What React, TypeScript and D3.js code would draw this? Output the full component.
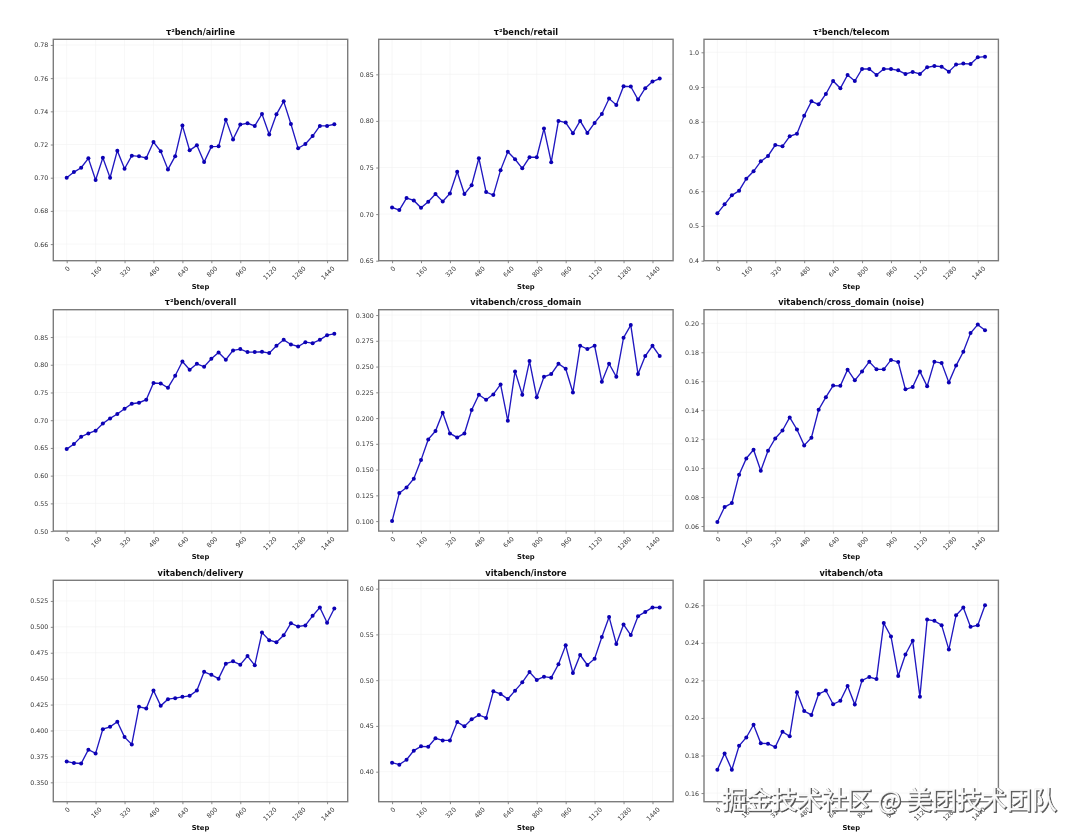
import { useEffect, useRef } from 'react'
import * as d3 from 'd3'

const width = 1080
const height = 838

// steps 0, 40, ... 1480
const steps = d3.range(38).map((i) => i * 40)
const stepTicks = [0, 160, 320, 480, 640, 800, 960, 1120, 1280, 1440]

const airline = [0.7, 0.7034, 0.706, 0.7117, 0.6986, 0.712, 0.7, 0.7163, 0.7054, 0.7133, 0.7129, 0.7119, 0.7215, 0.7159, 0.705, 0.713, 0.7314, 0.7165, 0.7195, 0.7094, 0.7187, 0.7189, 0.735, 0.7231, 0.732, 0.7328, 0.7312, 0.7384, 0.7261, 0.7382, 0.746, 0.7324, 0.7177, 0.7203, 0.7251, 0.7312, 0.7312, 0.7322]
const retail = [0.7072, 0.7043, 0.7172, 0.7147, 0.7068, 0.7132, 0.7215, 0.7136, 0.7222, 0.7455, 0.7215, 0.7311, 0.76, 0.7236, 0.7204, 0.7472, 0.767, 0.7588, 0.7491, 0.761, 0.761, 0.7918, 0.7557, 0.8, 0.7982, 0.7868, 0.8, 0.7871, 0.7979, 0.8075, 0.824, 0.8172, 0.8372, 0.8369, 0.8229, 0.8351, 0.8422, 0.8455]
const telecom = [0.5363, 0.5622, 0.5881, 0.6015, 0.636, 0.6573, 0.686, 0.7015, 0.733, 0.7293, 0.758, 0.7657, 0.8175, 0.8588, 0.8502, 0.88, 0.9174, 0.8963, 0.9347, 0.9174, 0.952, 0.952, 0.9347, 0.952, 0.952, 0.948, 0.9376, 0.9434, 0.9376, 0.9568, 0.9606, 0.9587, 0.9443, 0.9645, 0.9674, 0.9664, 0.9856, 0.9875]
const overall = [0.6479, 0.6569, 0.6702, 0.6762, 0.681, 0.6942, 0.7032, 0.7111, 0.7207, 0.7297, 0.7315, 0.737, 0.767, 0.7664, 0.7586, 0.7802, 0.806, 0.791, 0.8018, 0.7964, 0.8108, 0.8222, 0.809, 0.8258, 0.8282, 0.8228, 0.8228, 0.8234, 0.821, 0.8342, 0.845, 0.8366, 0.833, 0.8408, 0.839, 0.845, 0.8534, 0.8558]
const crossDomain = [0.1, 0.1272, 0.1327, 0.1411, 0.1592, 0.1793, 0.1874, 0.2052, 0.1851, 0.1812, 0.1851, 0.2078, 0.2227, 0.2178, 0.223, 0.2327, 0.1974, 0.2453, 0.2227, 0.2553, 0.2201, 0.2401, 0.2427, 0.2527, 0.2479, 0.2249, 0.2702, 0.267, 0.2702, 0.2353, 0.2527, 0.2401, 0.278, 0.2903, 0.2427, 0.2602, 0.2702, 0.2602]
const crossDomainNoise = [0.0628, 0.0731, 0.0759, 0.0955, 0.1067, 0.1127, 0.0982, 0.112, 0.1205, 0.126, 0.135, 0.1267, 0.1157, 0.121, 0.1403, 0.149, 0.157, 0.1568, 0.168, 0.1606, 0.1668, 0.1735, 0.1682, 0.1682, 0.1747, 0.1733, 0.1544, 0.156, 0.1668, 0.1565, 0.1735, 0.1726, 0.1592, 0.1708, 0.1804, 0.1933, 0.1991, 0.1952]
const delivery = [0.3702, 0.3686, 0.3682, 0.3814, 0.3779, 0.4013, 0.4035, 0.4084, 0.3936, 0.3865, 0.4228, 0.4212, 0.4386, 0.4238, 0.4302, 0.4312, 0.4325, 0.4334, 0.4386, 0.4566, 0.4537, 0.45, 0.4645, 0.4667, 0.4635, 0.4719, 0.4629, 0.4945, 0.4871, 0.4852, 0.4919, 0.5035, 0.5003, 0.5013, 0.5106, 0.5186, 0.5039, 0.5177]
const instore = [0.4098, 0.4077, 0.4131, 0.423, 0.4277, 0.4273, 0.4364, 0.4342, 0.4342, 0.4543, 0.4495, 0.4572, 0.462, 0.4587, 0.4878, 0.4849, 0.4794, 0.4885, 0.4976, 0.5089, 0.5002, 0.5038, 0.5027, 0.5173, 0.538, 0.5078, 0.5275, 0.5166, 0.5235, 0.5472, 0.5691, 0.5395, 0.5608, 0.5492, 0.5699, 0.5746, 0.5794, 0.5794]
const ota = [0.1724, 0.1811, 0.1724, 0.1852, 0.1896, 0.1964, 0.1865, 0.1863, 0.1845, 0.1927, 0.1902, 0.2137, 0.2037, 0.2016, 0.2128, 0.2146, 0.2073, 0.2091, 0.217, 0.2071, 0.22, 0.2218, 0.2207, 0.2505, 0.2434, 0.2223, 0.2338, 0.2411, 0.2113, 0.2524, 0.2517, 0.2494, 0.2364, 0.2547, 0.2588, 0.2485, 0.2494, 0.26]

const panels = [
  { title: 'τ²bench/airline', values: airline, domain: [0.65, 0.7834], ticks: [0.66, 0.68, 0.7, 0.72, 0.74, 0.76, 0.78], fmt: '.2f' },
  { title: 'τ²bench/retail', values: retail, domain: [0.65, 0.8876], ticks: [0.65, 0.7, 0.75, 0.8, 0.85], fmt: '.2f' },
  { title: 'τ²bench/telecom', values: telecom, domain: [0.4, 1.0374], ticks: [0.4, 0.5, 0.6, 0.7, 0.8, 0.9, 1.0], fmt: '.1f' },
  { title: 'τ²bench/overall', values: overall, domain: [0.5, 0.8993], ticks: [0.5, 0.55, 0.6, 0.65, 0.7, 0.75, 0.8, 0.85], fmt: '.2f' },
  { title: 'vitabench/cross_domain', values: crossDomain, domain: [0.0903, 0.3052], ticks: [0.1, 0.125, 0.15, 0.175, 0.2, 0.225, 0.25, 0.275, 0.3], fmt: '.3f' },
  { title: 'vitabench/cross_domain (noise)', values: crossDomainNoise, domain: [0.0565, 0.2094], ticks: [0.06, 0.08, 0.1, 0.12, 0.14, 0.16, 0.18, 0.2], fmt: '.2f' },
  { title: 'vitabench/delivery', values: delivery, domain: [0.3313, 0.5449], ticks: [0.35, 0.375, 0.4, 0.425, 0.45, 0.475, 0.5, 0.525], fmt: '.3f' },
  { title: 'vitabench/instore', values: instore, domain: [0.3672, 0.6091], ticks: [0.4, 0.45, 0.5, 0.55, 0.6], fmt: '.2f' },
  { title: 'vitabench/ota', values: ota, domain: [0.1554, 0.2733], ticks: [0.16, 0.18, 0.2, 0.22, 0.24, 0.26], fmt: '.2f' },
]

const colLefts = [53.3, 378.7, 704]
const rowTops = [39.3, 309.7, 580.3]
const panelW = 294.4
const panelH = 221.4

export default function App() {
  const svgRef = useRef<SVGSVGElement>(null)

  useEffect(() => {
    if (!svgRef.current) return
    const svg = d3.select(svgRef.current)
    svg.selectAll('*').remove()
    svg.attr('width', width).attr('height', height)

    const blur = svg.append('defs').append('filter').attr('id', 'soft')
      .attr('x', 0).attr('y', 0).attr('width', 1).attr('height', 1)
      .attr('filterUnits', 'objectBoundingBox')
    blur.append('feGaussianBlur').attr('stdDeviation', 0.4)

    const root = svg.append('g').attr('filter', 'url(#soft)')
    root.append('rect').attr('width', width).attr('height', height).attr('fill', '#fff')

    panels.forEach((p, i) => {
      const g = root.append('g')
        .attr('transform', `translate(${colLefts[i % 3]},${rowTops[Math.floor(i / 3)]})`)

      // matplotlib style 5% margins around 0..1480
      const x = d3.scaleLinear().domain([-74, 1554]).range([0, panelW])
      const y = d3.scaleLinear().domain(p.domain).range([panelH, 0])

      // Grid lines
      const grid = g.append('g').attr('stroke', '#f2f2f2').attr('stroke-width', 0.6)
      grid.selectAll('.gx').data(stepTicks).enter().append('line')
        .attr('x1', (d) => x(d)).attr('x2', (d) => x(d))
        .attr('y1', 0).attr('y2', panelH)
      grid.selectAll('.gy').data(p.ticks).enter().append('line')
        .attr('y1', (d) => y(d)).attr('y2', (d) => y(d))
        .attr('x1', 0).attr('x2', panelW)

      // Axes
      const xAxis = g.append('g')
        .attr('transform', `translate(0,${panelH})`)
        .call(d3.axisBottom(x).tickValues(stepTicks).tickSize(2.5).tickFormat(d3.format('d') as any))
      xAxis.select('.domain').remove()
      xAxis.selectAll('line').attr('stroke', '#555').attr('stroke-width', 0.7)
      xAxis.selectAll('text')
        .attr('fill', '#333')
        .attr('font-size', 6.3)
        .attr('font-family', '"DejaVu Sans"')
        .attr('text-anchor', 'middle')
        .attr('dy', 0)
        .attr('y', 0)
        .attr('transform', (d: any) => {
          const half = (String(d).length * 3.95 + 4.5) * 0.354
          return `translate(0,${5 + half}) rotate(-45)`
        })
        .attr('dominant-baseline', 'central')

      const yAxis = g.append('g')
        .call(d3.axisLeft(y).tickValues(p.ticks).tickSize(2.5).tickPadding(2.5).tickFormat(d3.format(p.fmt) as any))
      yAxis.select('.domain').remove()
      yAxis.selectAll('line').attr('stroke', '#555').attr('stroke-width', 0.7)
      yAxis.selectAll('text')
        .attr('fill', '#333')
        .attr('font-size', 6.3)
        .attr('font-family', '"DejaVu Sans"')

      // Line and markers
      const line = d3.line<number>()
        .x((_, j) => x(steps[j]))
        .y((d) => y(d))
      g.append('path')
        .datum(p.values)
        .attr('fill', 'none')
        .attr('stroke', '#2018c0')
        .attr('stroke-width', 1.35)
        .attr('d', line)
      g.selectAll('.dot').data(p.values).enter().append('circle')
        .attr('cx', (_, j) => x(steps[j]))
        .attr('cy', (d) => y(d))
        .attr('r', 2)
        .attr('fill', '#0800b4')

      // Frame
      g.append('rect')
        .attr('width', panelW).attr('height', panelH)
        .attr('fill', 'none').attr('stroke', '#7c7c7c').attr('stroke-width', 1.4)

      // Title and x label
      g.append('text')
        .attr('x', panelW / 2).attr('y', -4.6)
        .attr('text-anchor', 'middle')
        .attr('font-family', '"DejaVu Sans"').attr('font-weight', 'bold').attr('font-size', 8.2)
        .attr('fill', '#111')
        .text(p.title)
      g.append('text')
        .attr('x', panelW / 2).attr('y', panelH + 28)
        .attr('text-anchor', 'middle')
        .attr('font-family', '"DejaVu Sans"').attr('font-weight', 'bold').attr('font-size', 6.8)
        .attr('fill', '#111')
        .text('Step')
    })

    // Watermark
    const mark = '掘金技术社区 @ 美团技术团队'
    const wm = { x: 722, y: 809, size: 25 }
    root.append('text')
      .attr('x', wm.x + 0.9).attr('y', wm.y + 0.9)
      .attr('font-family', '"Noto Sans CJK SC"').attr('font-size', wm.size)
      .attr('fill', '#555').attr('stroke', '#555').attr('stroke-width', 1)
      .text(mark)
    root.append('text')
      .attr('x', wm.x).attr('y', wm.y)
      .attr('font-family', '"Noto Sans CJK SC"').attr('font-size', wm.size)
      .attr('fill', '#fafafa').attr('stroke', '#fafafa').attr('stroke-width', 0.3)
      .text(mark)
  }, [])

  return <svg ref={svgRef} style={{ position: 'absolute', left: 0, top: 0, display: 'block' }}></svg>
}
